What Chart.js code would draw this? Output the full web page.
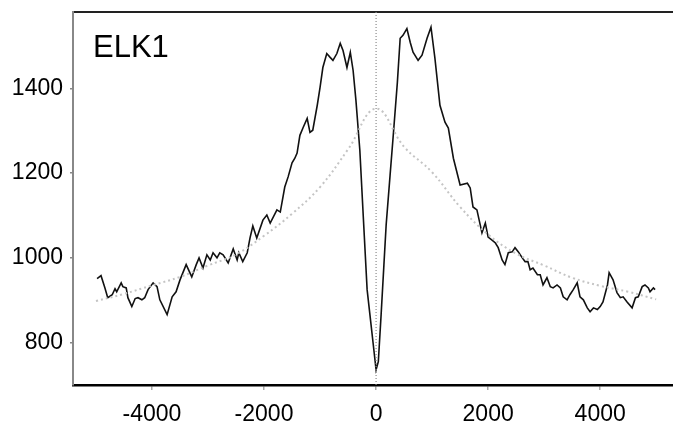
<!DOCTYPE html>
<html>
<head>
<meta charset="utf-8">
<script src="https://cdn.jsdelivr.net/npm/chart.js@4/dist/chart.umd.min.js"></script>
<style>
	html,body{margin:0;padding:0;background:#fff;}
	#wrap{width:673px;height:429px;}
</style>
</head>
<body>
<div id="wrap"><canvas id="chartLine" width="673" height="429"></canvas></div>
<script>
// position (bp from centre) and signal of the ELK1 profile
var signalPos=[-4980,-4910,-4840,-4790,-4710,-4660,-4630,-4550,-4520,-4460,
	-4430,-4360,-4300,-4250,-4180,-4130,-4070,-3980,-3910,-3860,
	-3730,-3640,-3570,-3500,-3390,-3290,-3210,-3160,-3090,-3020,
	-2960,-2910,-2840,-2790,-2730,-2640,-2550,-2480,-2450,-2380,
	-2300,-2250,-2200,-2130,-2020,-1950,-1890,-1770,-1710,-1630,
	-1570,-1500,-1450,-1410,-1360,-1300,-1230,-1180,-1130,-1050,
	-1000,-950,-880,-820,-770,-700,-640,-590,-520,-460,
	-410,-360,-290,-230,-160,-110,-50,0,40,90,
	140,180,250,300,380,430,480,550,610,660,
	750,820,910,980,1050,1140,1230,1290,1380,1500,
	1630,1680,1730,1800,1890,1950,2000,2070,2130,2180,
	2250,2300,2360,2430,2480,2540,2610,2660,2710,2750,
	2800,2880,2930,2980,3050,3110,3160,3230,3290,3340,
	3410,3460,3520,3590,3640,3700,3770,3820,3880,3950,
	4000,4050,4130,4160,4230,4300,4360,4410,4480,4570,
	4630,4680,4750,4800,4860,4890,4950,4980];
var signalVal=[951,958,929,906,913,927,920,941,932,929,
	906,885,904,906,901,906,925,941,932,901,
	866,908,920,948,984,955,984,1000,976,1007,
	995,1012,1000,1012,1007,988,1021,995,1012,991,
	1012,1047,1075,1047,1089,1101,1082,1113,1108,1167,
	1191,1224,1235,1247,1289,1308,1329,1296,1301,1360,
	1402,1449,1482,1473,1466,1482,1506,1489,1449,1485,
	1442,1372,1254,1101,925,866,795,736,755,866,
	984,1078,1195,1278,1414,1518,1525,1541,1508,1485,
	1466,1478,1518,1544,1471,1360,1320,1306,1235,1172,
	1176,1165,1120,1113,1059,1082,1049,1042,1035,1024,
	995,984,1012,1014,1024,1014,1000,991,991,972,
	976,960,960,936,953,932,929,936,929,908,
	901,913,925,941,908,901,882,873,882,878,
	885,896,936,965,948,918,906,908,896,882,
	906,908,932,936,929,920,929,925];

// grey background profile
var bgPos=[-5000,-4500,-4000,-3500,-3000,-2500,-2000,-1500,-1000,-500,0,
	500,1000,1500,2000,2500,3000,3500,4000,4500,5000];
var bgVal=[898,915,935,955,982,1008,1052,1104,1167,1256,1352,
	1262,1202,1120,1055,1010,982,953,934,920,902];

// centre marker
var centrePos=[0,0];
var centreVal=[700,1580];

var xTicks=[-4000,-2000,0,2000,4000];
var yTicks=[800,1000,1200,1400];
var panelLabel="ELK1";

function toPoints(xs,ys){
	return xs.map(function(x,i){ return {x:x,y:ys[i]}; });
}

function plainLabel(value){
	return String(value);
}

var fontFamily="'Liberation Sans', Arial, sans-serif";

//DRAW THE PANEL LABEL INSIDE THE PLOT
var panelLabelPlugin={
	id:"panelLabel",
	afterDraw:function(chart){
		var ctx=chart.ctx, area=chart.chartArea;
		ctx.save();
		ctx.fillStyle="#000";
		ctx.font="31px "+fontFamily;
		ctx.textBaseline="alphabetic";
		ctx.fillText(panelLabel,area.left+20,area.top+45);
		ctx.restore();
	}
};

var chartLineConfiguration={
	type:"line",
	data:{
		datasets:[
			{
				data:toPoints(centrePos,centreVal),
				borderColor:"#8a8a8a",
				borderWidth:1.2,
				borderDash:[1,2],
				pointRadius:0
			},
			{
				data:toPoints(bgPos,bgVal),
				borderColor:"#c4c4c4",
				borderWidth:2,
				borderDash:[2,3],
				pointRadius:0,
				tension:0.4
			},
			{
				data:toPoints(signalPos,signalVal),
				borderColor:"#111",
				borderWidth:1.6,
				pointRadius:0,
				tension:0
			}
		]
	},
	options:{
		responsive:false,
		animation:false,
		devicePixelRatio:1,
		layout:{padding:0},
		plugins:{legend:{display:false},tooltip:{enabled:false},title:{display:false}},
		scales:{
			x:{
				type:"linear",
				position:"bottom",
				min:-5410,max:5300,
				afterBuildTicks:function(scale){ scale.ticks=xTicks.map(function(v){return {value:v};}); },
				afterFit:function(scale){ scale.height=44; scale.paddingLeft=0; scale.paddingRight=0; },
				grid:{drawOnChartArea:false,drawTicks:true,tickLength:5,color:"#aaa",lineWidth:1.5},
				border:{color:"#000",width:2.5},
				ticks:{color:"#000",padding:11,maxRotation:0,callback:plainLabel,font:{family:fontFamily,size:23}}
			},
			xTop:{
				type:"linear",
				position:"top",
				min:-5410,max:5300,
				afterFit:function(scale){ scale.height=12; scale.paddingLeft=0; scale.paddingRight=0; },
				grid:{display:false,drawTicks:false},
				border:{color:"#222",width:2},
				ticks:{display:false}
			},
			y:{
				type:"linear",
				position:"left",
				min:700,max:1580,
				afterBuildTicks:function(scale){ scale.ticks=yTicks.map(function(v){return {value:v};}); },
				afterFit:function(scale){ scale.width=73; scale.paddingTop=0; scale.paddingBottom=0; },
				grid:{drawOnChartArea:false,drawTicks:true,tickLength:3,color:"#888",lineWidth:1.5},
				border:{color:"#888",width:2},
				ticks:{color:"#000",padding:7,callback:plainLabel,font:{family:fontFamily,size:23}}
			}
		}
	},
	plugins:[panelLabelPlugin]
};

var ctx=document.getElementById("chartLine");
var myLineChart=new Chart(ctx,chartLineConfiguration);
</script>
</body>
</html>
